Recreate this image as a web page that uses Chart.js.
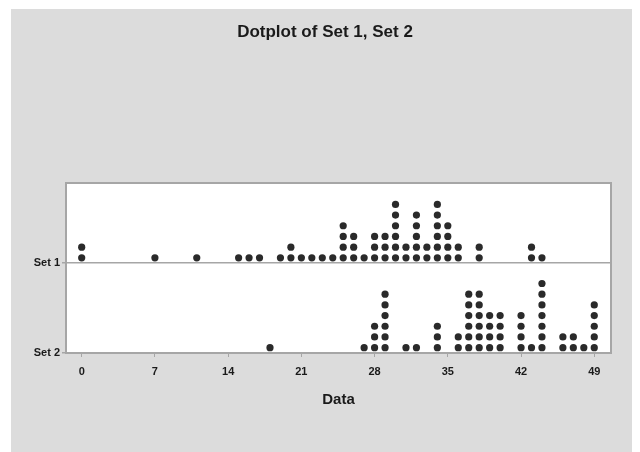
<!DOCTYPE html>
<html>
<head>
<meta charset="utf-8">
<script src="https://cdn.jsdelivr.net/npm/chart.js"></script>
<style>
  html, body { margin: 0; padding: 0; background: #fff; }
  #wrap { position: relative; width: 640px; height: 452px; }
  #panel { position: absolute; left: 11px; top: 9px; width: 621px; height: 443px; background: #dcdcdc; }
  #chart { position: absolute; left: 0; top: 0; }
</style>
</head>
<body>
<div id="wrap">
  <div id="panel"></div>
  <canvas id="chart" width="640" height="452"></canvas>
</div>
<script>
// values on the Data axis, and how many dots are stacked at each one
const set1Values = [0, 7, 11, 15, 16, 17, 19, 20, 21, 22, 23, 24, 25, 26, 27, 28, 29, 30, 31, 32, 33, 34, 35, 36, 38, 43, 44];
const set1Counts = [2, 1, 1, 1, 1, 1, 1, 2, 1, 1, 1, 1, 4, 3, 1, 3, 3, 6, 2, 5, 2, 6, 4, 2, 2, 2, 1];
const set2Values = [18, 27, 28, 29, 31, 32, 34, 36, 37, 38, 39, 40, 42, 43, 44, 46, 47, 48, 49];
const set2Counts = [1, 1, 3, 6, 1, 1, 3, 2, 6, 6, 4, 4, 4, 1, 7, 2, 2, 1, 5];
const xTicks = [0, 7, 14, 21, 28, 35, 42, 49];
const groupLabels = ['Set 1', 'Set 2'];

// y is measured in dot heights; Set 2 sits on 0, Set 1 on its own baseline
const SET2_BASE = 0;
const SET1_BASE = 8.4;
const Y_TOP = 15.9;

function stackDots(values, counts, base) {
  const pts = [];
  values.forEach((v, i) => {
    for (let k = 0; k < counts[i]; k++) pts.push({ x: v, y: base + 0.5 + k });
  });
  return pts;
}

const FONT = '"Liberation Sans", Arial, sans-serif';
const FRAME = '#a6a6a6';

const framePlugin = {
  id: 'frame',
  beforeDraw(chart) {
    const { ctx, chartArea: a } = chart;
    ctx.save();
    ctx.fillStyle = '#fff';
    ctx.fillRect(a.left, a.top, a.right - a.left, a.bottom - a.top);
    ctx.restore();
  },
  afterDraw(chart) {
    const { ctx, chartArea: a } = chart;
    ctx.save();
    ctx.strokeStyle = FRAME;
    ctx.lineWidth = 2;
    ctx.strokeRect(a.left, a.top, a.right - a.left, a.bottom - a.top);
    ctx.restore();
  }
};

new Chart(document.getElementById('chart'), {
  type: 'scatter',
  data: {
    datasets: [
      { label: groupLabels[0], data: stackDots(set1Values, set1Counts, SET1_BASE) },
      { label: groupLabels[1], data: stackDots(set2Values, set2Counts, SET2_BASE) }
    ]
  },
  options: {
    responsive: false,
    animation: false,
    layout: { padding: { left: 19, right: 9, top: 0, bottom: 0 } },
    elements: {
      point: { radius: 3.6, backgroundColor: '#2a2a2a', borderWidth: 0, pointStyle: 'circle' }
    },
    plugins: {
      legend: { display: false },
      tooltip: { enabled: false },
      title: {
        display: true,
        text: 'Dotplot of Set 1, Set 2',
        color: '#1a1a1a',
        font: { family: FONT, size: 17, weight: 'bold' },
        padding: { top: 22, bottom: 140.6 }
      }
    },
    scales: {
      x: {
        type: 'linear',
        min: -1.5,
        max: 50.6,
        afterBuildTicks: s => { s.ticks = xTicks.map(v => ({ value: v })); },
        afterFit: s => { s.height = 99; },
        border: { display: false },
        grid: { drawOnChartArea: false, drawTicks: true, tickLength: 4, color: FRAME },
        ticks: { color: '#1a1a1a', padding: 8, maxRotation: 0, font: { family: FONT, size: 11, weight: 'bold' } },
        title: {
          display: true,
          text: 'Data',
          color: '#1a1a1a',
          font: { family: FONT, size: 15, weight: 'bold' },
          padding: { top: 0, bottom: 43 }
        }
      },
      y: {
        type: 'linear',
        min: 0,
        max: Y_TOP,
        afterBuildTicks: s => { s.ticks = [{ value: SET2_BASE }, { value: SET1_BASE }]; },
        afterFit: s => { s.width = 47; },
        border: { display: false },
        grid: { drawTicks: true, tickLength: 4, color: FRAME, lineWidth: 1.5 },
        ticks: {
          color: '#1a1a1a',
          padding: 2,
          font: { family: FONT, size: 11, weight: 'bold' },
          callback: v => (v === SET1_BASE ? groupLabels[0] : groupLabels[1])
        }
      },
      // empty right-hand box so the plot ends where the reference frame does
      yRight: {
        type: 'linear',
        position: 'right',
        afterFit: s => { s.width = 20; },
        border: { display: false },
        grid: { display: false },
        ticks: { display: false }
      }
    }
  },
  plugins: [framePlugin]
});
</script>
</body>
</html>
